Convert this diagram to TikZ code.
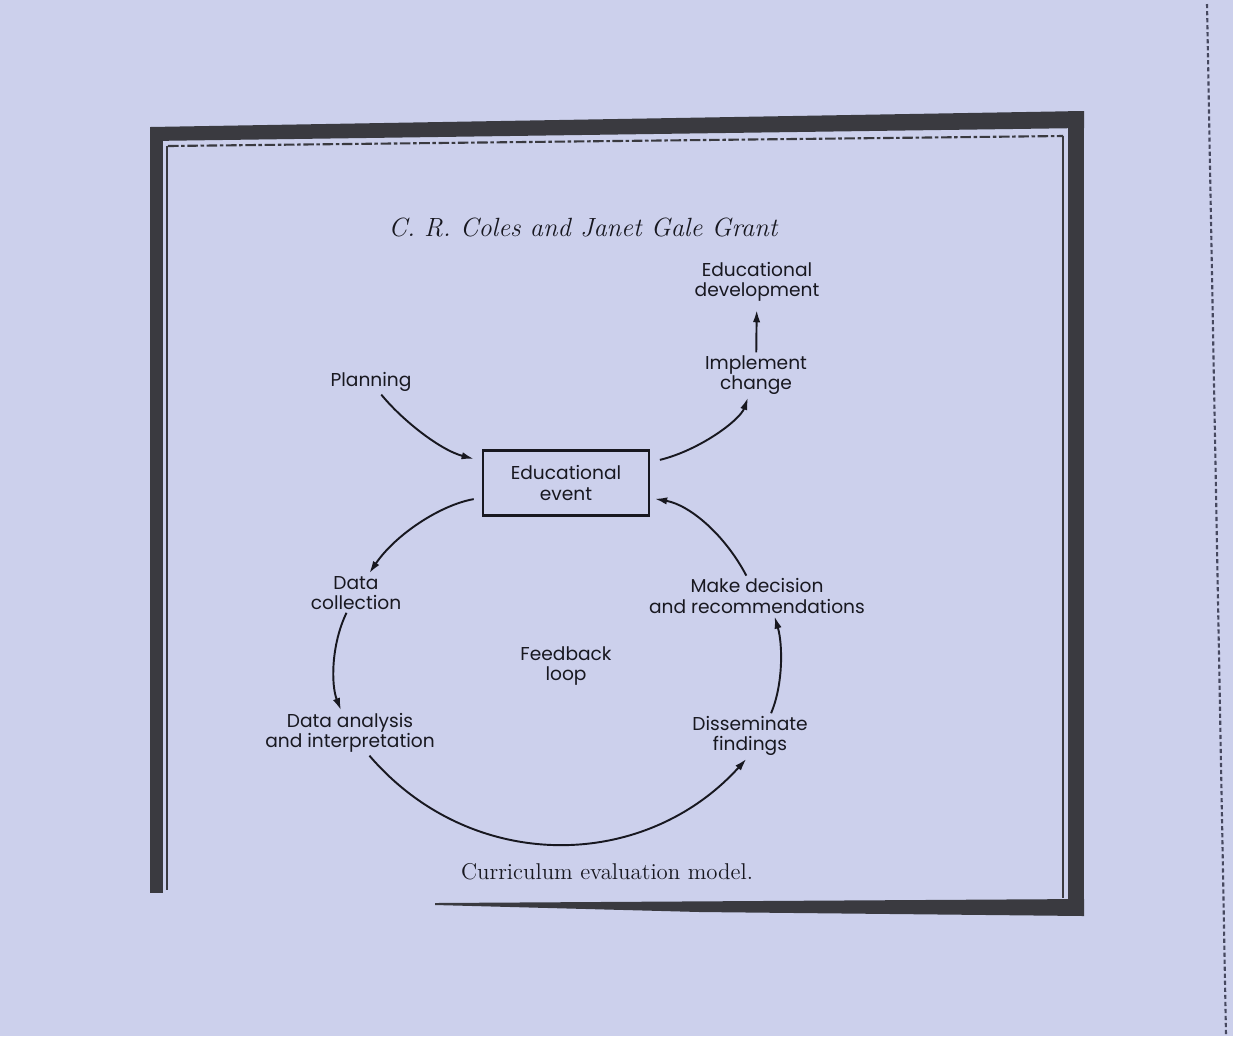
\documentclass[tikz,border=0pt]{standalone}
\usepackage{fontspec}
\usetikzlibrary{arrows.meta}
\newfontfamily\labelfont{Poppins}
\definecolor{paper}{RGB}{204,208,236}
\definecolor{ink}{RGB}{24,24,32}
\definecolor{framecol}{RGB}{58,58,64}
\definecolor{dashcol}{RGB}{70,72,95}
\tikzset{
  lbl/.style={font=\labelfont\fontsize{10.6}{11.6}\selectfont, text=ink, align=center, inner sep=1.5pt},
  evbox/.style={lbl, draw=ink, line width=1.2pt, minimum width=94pt, minimum height=37pt},
  conn/.style={draw=ink, line width=1.1pt, -{Latex[length=7pt,width=4.2pt]}},
  band/.style={fill=framecol, draw=none},
}
\begin{document}
\begin{tikzpicture}[x=0.02cm,y=-0.02cm]
\fill[paper] (0,0) rectangle (1233,1036);
\useasboundingbox (0,0) rectangle (1233,1036);
% frame
\fill[band] (150,127) -- (1084,111) -- (1084,128) -- (150,141) -- cycle;
\fill[band] (150,127) rectangle (163,893);
\fill[band] (1068,111) rectangle (1084,916);
\fill[band] (435,903) -- (1084,899) -- (1084,916) -- (700,912) -- (435,905) -- cycle;
\draw[framecol, line width=1.2pt, dash pattern=on 6pt off 1.5pt on 2pt off 1.5pt] (168,146) -- (1063,136);
\draw[framecol, line width=0.8pt] (167,146) -- (167,890);
\draw[framecol, line width=0.8pt] (1063,136) -- (1063,898);
% dashed edge line
\draw[dashcol, line width=1.2pt, dash pattern=on 2.4pt off 1.6pt] (1207,4) -- (1226,1036);
% texts
\node[font=\itshape\fontsize{15}{18}\selectfont, text=ink] (title) at (583,227) {C. R. Coles and Janet Gale Grant};
\node[font=\fontsize{13}{15}\selectfont, text=ink] (caption) at (607,872) {Curriculum evaluation model.};
% nodes
\node[lbl] (dev) at (757,282) {Educational\\development};
\node[lbl] (impl) at (756,375) {Implement\\change};
\node[lbl] (plan) at (371,382) {Planning};
\node[evbox] (box) at (566,483) {Educational\\event};
\node[lbl] (coll) at (356,593) {Data\\collection};
\node[lbl] (dec) at (757,596) {Make decision\\and recommendations};
\node[lbl] (fb) at (566,666) {Feedback\\loop};
\node[lbl] (ana) at (350,733) {Data analysis\\and interpretation};
\node[lbl] (dis) at (750,736) {Disseminate\\findings};
% connectors
\draw[conn, shorten >=5pt] (plan) .. controls (402,420) and (440,450) .. (box);
\draw[conn, shorten <=6pt] (box) .. controls (700,450) and (740,420) .. (impl);
\draw[conn, shorten >=3pt] (impl) -- (dev);
\draw[conn, shorten <=5pt] (box) .. controls (440,505) and (395,535) .. (coll);
\draw[conn, shorten >=3pt] (dec) .. controls (725,535) and (690,505) .. (box);
\draw[conn] (coll) .. controls (331,645) and (331,685) .. (ana);
\draw[conn] ([xshift=12pt]dis.north) .. controls (783,685) and (783,645) .. ([xshift=10pt]dec.south);
\draw[conn] (ana) .. controls (471,874) and (644,872) .. ([xshift=-2pt]dis.south);
\end{tikzpicture}
\end{document}
